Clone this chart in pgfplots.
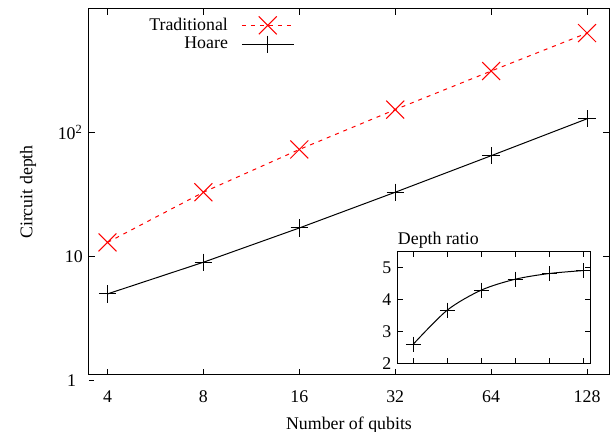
\documentclass[border=0pt]{standalone}
\usepackage{fontspec}
\setmainfont{Liberation Serif}
\usepackage{pgfplots}
\pgfplotsset{compat=1.18}
\begin{document}
\fontsize{10.7}{12.8}\selectfont
\begin{tikzpicture}
\useasboundingbox (-53.4pt,-34.2pt) rectangle (314.4pt,225pt);
\begin{axis}[
  at={(0pt,0pt)}, anchor=south west,
  scale only axis, width=312pt, height=219.6pt,
  xmode=log, ymode=log, log basis x=2,
  xmin=3.5, xmax=150, ymin=1.11, ymax=990,
  xtick={4,8,16,32,64,128}, xticklabels={4,8,16,32,64,128},
  ytick={10,100}, yticklabels={10,10\textsuperscript{2}},
  minor xtick={}, minor ytick={}, minor tick length=0pt,
  tick align=inside, major tick length=3.6pt,
  axis line style={line width=0.6pt},
  every tick/.style={line width=0.6pt, black},
  xticklabel style={yshift=-5.5pt},
  xlabel={Number of qubits}, ylabel={Circuit depth},
  xlabel style={at={(axis description cs:0.5,-0.137)}, anchor=center},
  ylabel style={at={(axis description cs:-0.117,0.5)}, anchor=center},
  clip=false,
  legend plot pos=right,
  legend cell align=right,
  legend style={at={(axis description cs:0.405,0.995)}, anchor=north east, draw=none, fill=none, row sep=-1.5pt, column sep=6pt},
  legend image code/.code={\draw[mark repeat=2,mark phase=2,#1] plot coordinates {(0pt,0pt) (15.6pt,0pt) (31.2pt,0pt)};},
]
\addplot[red, line width=0.6pt, dash pattern=on 2.4pt off 3pt, mark=x, mark size=7.6pt, mark options={solid}]
  coordinates {(4,13) (8,33) (16,73) (32,153) (64,313) (128,633)};
\addlegendentry{Traditional}
\addplot[black, line width=0.6pt, mark=+, mark size=5.2pt]
  coordinates {(4,5) (8,9) (16,17) (32,33) (64,65) (128,129)};
\addlegendentry{Hoare}
\draw[line width=0.6pt] (axis cs:3.5,1) -- ++(3pt,0pt);
\node[anchor=east, inner sep=0pt] at (axis cs:3.5,1) [xshift=-7.5pt] {1};
\end{axis}
\begin{axis}[
  at={(185.2pt,7pt)}, anchor=south west,
  scale only axis, width=115.4pt, height=67pt,
  xmin=0.54, xmax=6.2, ymin=2, ymax=5.5,
  xtick={1,2,3,4,5,6}, xticklabels={},
  ytick={2,3,4,5}, yticklabels={2,3,4,5},
  tick align=inside, major tick length=3pt,
  axis line style={line width=0.6pt},
  every tick/.style={line width=0.6pt, black},
  axis background/.style={fill=white},
  every axis title shift=0pt,
  title={Depth ratio},
  title style={at={(axis description cs:0,1)}, anchor=south west, yshift=0pt, inner xsep=0pt, inner ysep=2pt},
]
\addplot[black, line width=0.6pt, smooth, mark=+, mark size=4.5pt]
  coordinates {(1,2.6) (2,3.667) (3,4.294) (4,4.636) (5,4.815) (6,4.907)};
\end{axis}
\end{tikzpicture}
\end{document}
